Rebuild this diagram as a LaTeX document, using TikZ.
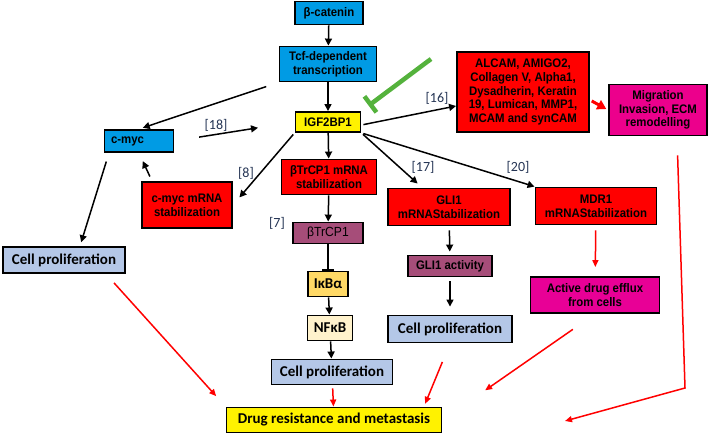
\documentclass[tikz,border=0pt]{standalone}
\usepackage{fontspec}
\setmainfont[FakeStretch=0.92]{Liberation Sans}
\newfontfamily\calfont{Carlito}
\usetikzlibrary{arrows.meta}
\definecolor{bblue}{RGB}{0,155,228}
\definecolor{cblue}{RGB}{180,199,231}
\definecolor{bpurp}{RGB}{166,77,121}
\definecolor{iyel}{RGB}{255,217,102}
\definecolor{nyel}{RGB}{255,242,204}
\definecolor{hpink}{RGB}{232,0,150}
\definecolor{igreen}{RGB}{84,178,60}
\definecolor{refc}{RGB}{36,52,84}
\begin{document}
\begin{tikzpicture}[x=1pt,y=-1pt,
 bx/.style n args={3}{draw,line width=1.9pt,fill=#1,minimum width=#2pt,minimum height=#3pt,inner sep=1pt,align=center,
  font=\fontsize{12.4}{13.6}\selectfont\bfseries},
 cal/.style={font=\calfont\fontsize{15}{17}\selectfont\bfseries},
 lab/.style={text=refc,font=\calfont\fontsize{14}{16}\selectfont},
 arr/.style={-{Triangle[length=7pt,width=7pt]},line width=1.5pt},
 rarr/.style={-{Triangle[length=7pt,width=6pt]},line width=1.5pt,red},
 inh/.style={-{Bar[width=12pt]},line width=1.5pt}]
\useasboundingbox (0,0) rectangle (709,436);
\node[bx={bblue}{68}{23}] (cat) at (329,13) {β-catenin};
\node[bx={bblue}{97}{35}] (tcf) at (328,64) {Tcf-dependent\\transcription};
\node[bx={yellow}{65}{20}] (igf) at (328,122) {IGF2BP1};
\node[bx={red}{132}{80}] (alcam) at (523,92) {ALCAM, AMIGO2,\\Collagen V, Alpha1,\\Dysadherin, Keratin\\19, Lumican, MMP1,\\MCAM and synCAM};
\node[bx={magenta}{98}{51}] (migr) at (658,110) {Migration\\Invasion, ECM\\remodelling};
\node[bx={bblue}{69}{22},text width=56pt,align=left] (cmyc) at (139,141) {c-myc};
\node[bx={red}{90}{46}] (cmrna) at (187,205) {c-myc mRNA\\stabilization};
\node[bx={cblue}{122}{26},cal] (cpl) at (64,260) {Cell proliferation};
\node[bx={red}{95}{35}] (btrm) at (329,177) {βTrCP1 mRNA\\stabilization};
\node[bx={bpurp}{70}{21},font=\fontsize{13.2}{15}\selectfont] (btr) at (328,233) {βTrCP1};
\node[bx={iyel}{40}{25},cal] (ikb) at (328,284) {IκBα};
\node[bx={nyel}{45}{25},cal] (nfkb) at (330,328) {NFκB};
\node[bx={cblue}{121}{25},cal] (cpc) at (332,372) {Cell proliferation};
\node[bx={yellow}{215}{25},cal] (drug) at (334,420) {Drug resistance and metastasis};
\node[bx={red}{122}{37}] (gli) at (449,207) {GLI1\\mRNAStabilization};
\node[bx={bpurp}{84}{21}] (glia) at (450,266) {GLI1 activity};
\node[bx={cblue}{124}{27},cal] (cpr) at (450,329) {Cell proliferation};
\node[bx={red}{121}{37}] (mdr) at (596,206) {MDR1\\mRNAStabilization};
\node[bx={hpink}{129}{36}] (eff) at (595,295) {Active drug efflux\\from cells};
\node[lab] (l18) at (216,125) {[18]};
\node[lab] (l8) at (246,173) {[8]};
\node[lab] (l7) at (277,223) {[7]};
\node[lab] (l17) at (423,167) {[17]};
\node[lab] (l20) at (518,167) {[20]};
\node[lab] (l16) at (437,98) {[16]};
\coordinate (gtop) at (431,59);
\coordinate (mbend) at (685,388);
\coordinate (mend) at (565,421);
% black pathway
\draw[arr] (cat) -- (tcf);
\draw[arr] (tcf) -- (igf);
\draw[arr,shorten <=13pt,shorten >=4pt] (tcf.south west) -- (cmyc.north);
\draw[arr,shorten <=25pt,shorten >=37pt] (cmyc.east) -- (igf.west);
\draw[arr,shorten <=2pt,shorten >=10pt] (igf.south west) -- (cmrna.east);
\draw[arr,shorten <=5pt,shorten >=9pt] ([xshift=-35pt]cmrna.north) -- (cmyc.south);
\draw[arr,shorten <=9pt,shorten >=4pt] ([xshift=-30pt]cmyc.south) -- ([xshift=16pt]cpl.north);
\draw[arr] (igf) -- (btrm);
\draw[arr,shorten <=2pt,shorten >=6pt] (igf.south east) -- ([xshift=35pt]gli.north west);
\draw[arr,shorten <=2pt] (igf.south east) -- (mdr.north west);
\draw[arr,shorten <=2pt] ([yshift=-3pt]igf.east) -- ([yshift=-14pt]alcam.west);
\draw[arr] (btrm) -- (btr);
\draw[inh] (btr) -- (ikb);
\draw[arr] (ikb) -- (nfkb);
\draw[arr] (nfkb) -- (cpc);
\draw[arr,shorten <=4pt,shorten >=3pt] (gli) -- (glia);
\draw[arr,shorten <=4pt,shorten >=8pt] (glia) -- (cpr);
\draw[-{Bar[width=20pt]},line width=4.5pt,igreen,shorten >=9pt] (gtop) -- (igf.north east);
% red arrows
\draw[-{Triangle[length=9pt,width=10pt]},line width=3pt,red,shorten <=2pt,shorten >=2pt] ([yshift=-8pt]alcam.east) -- (migr.west);
\draw[rarr,shorten <=5pt,shorten >=9pt] (mdr) -- (eff);
\draw[rarr,shorten <=12pt,shorten >=14pt] ([xshift=-20pt]cpl.south east) -- (drug.north west);
\draw[rarr,shorten <=3pt] (cpc) -- (drug);
\draw[rarr,shorten <=20pt,shorten >=3pt] (cpr.south) -- ([xshift=90pt]drug.north);
\draw[rarr,shorten <=27pt,shorten >=52pt] (eff.south) -- (drug.east);
\draw[rarr,shorten <=19pt] ([xshift=19pt]migr.south) -- (mbend) -- (mend);
\end{tikzpicture}
\end{document}
